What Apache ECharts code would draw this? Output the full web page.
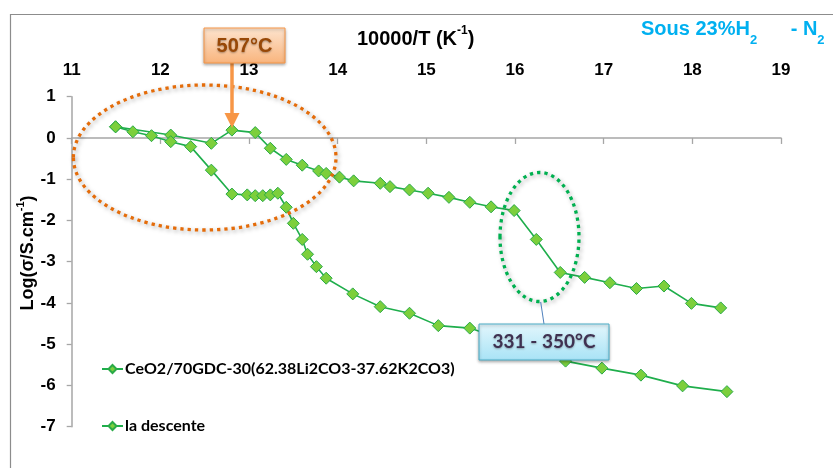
<!DOCTYPE html>
<html><head><meta charset="utf-8">
<script src="https://cdn.jsdelivr.net/npm/echarts@6/dist/echarts.min.js"></script>
<style>html,body{margin:0;padding:0;background:#fff}#c{width:833px;height:468px}</style>
</head><body><div id="c"></div>
<script>
// ---- data ----
const seriesNames = ['CeO2/70GDC-30(62.38Li2CO3-37.62K2CO3)', 'la descente'];
const xTickLabels = [11, 12, 13, 14, 15, 16, 17, 18, 19];
const yTickLabels = [-7, -6, -5, -4, -3, -2, -1, 0, 1];

const upperX = [11.495, 12.117, 12.575, 12.807, 13.07, 13.24, 13.42, 13.60, 13.785, 13.87, 14.02, 14.18, 14.48, 14.59, 14.81, 15.02, 15.255, 15.49, 15.73, 15.99, 16.24, 16.51, 16.785, 17.07, 17.37, 17.68, 17.99, 18.32];
const upperY = [0.27, 0.07, -0.13, 0.19, 0.13, -0.25, -0.52, -0.66, -0.80, -0.86, -0.95, -1.04, -1.10, -1.18, -1.26, -1.34, -1.44, -1.56, -1.67, -1.76, -2.46, -3.26, -3.38, -3.51, -3.65, -3.59, -4.01, -4.12];

const descX = [11.495, 11.69, 11.90, 12.117, 12.342, 12.575, 12.807, 12.98, 13.07, 13.155, 13.24, 13.325, 13.42, 13.50, 13.60, 13.66, 13.76, 13.87, 14.17, 14.48, 14.81, 15.135, 15.49, 16.57, 16.98, 17.42, 17.89, 18.39];
const descY = [0.27, 0.15, 0.055, -0.09, -0.21, -0.78, -1.36, -1.38, -1.40, -1.40, -1.38, -1.34, -1.68, -2.07, -2.46, -2.82, -3.12, -3.40, -3.78, -4.09, -4.25, -4.55, -4.61, -5.41, -5.58, -5.75, -6.01, -6.15];

const pairs = (xs, ys) => xs.map((x, i) => [x, ys[i]]);

const chart = echarts.init(document.getElementById('c'), null, {renderer: 'canvas'});
const lineColor = '#1FAE4C';
const markFill = '#7CCF3C';
const markBorder = '#2AAA48';
const axisGray = '#A6A6A6';
const tickFont = {fontFamily: '"Liberation Sans", Arial, sans-serif', fontWeight: 'bold', fontSize: 17, color: '#000'};

function mkSeries(name, data) {
  return {
    name: name, type: 'line', xAxisIndex: 0, yAxisIndex: 0,
    data: data, symbol: 'diamond', symbolSize: 12, showSymbol: true,
    lineStyle: {color: lineColor, width: 1.6},
    itemStyle: {color: markFill, borderColor: markBorder, borderWidth: 1},
    emphasis: {disabled: true}, animation: false, z: 3
  };
}

const dotted = (color) => ({
  fill: 'none', stroke: color, lineWidth: 3.3, lineDash: [3.3, 4],
  shadowBlur: 4, shadowColor: 'rgba(0,0,0,0.35)', shadowOffsetX: 1.5, shadowOffsetY: 2
});

const LS = '"Liberation Sans", Arial, sans-serif';

const option = {
  animation: false,
  backgroundColor: '#fff',
  grid: {left: 71.7, right: 52, top: 96.7, bottom: 41.3, containLabel: false},
  xAxis: [
    {type: 'value', position: 'top', min: 11, max: 19, interval: 1,
     axisLine: {show: false, onZero: false}, axisTick: {show: false}, splitLine: {show: false},
     axisLabel: Object.assign({margin: 18, formatter: v => xTickLabels.includes(v) ? String(v) : ''}, tickFont)},
    {type: 'value', position: 'bottom', min: 11, max: 19, interval: 1,
     axisLine: {show: true, onZero: true, lineStyle: {color: axisGray, width: 1.5}},
     axisTick: {show: true, length: 6, lineStyle: {color: axisGray, width: 1.3}},
     axisLabel: {show: false}, splitLine: {show: false}}
  ],
  yAxis: [{
    type: 'value', min: -7, max: 1, interval: 1,
    axisLine: {show: true, onZero: false, lineStyle: {color: axisGray, width: 1.5}},
    axisTick: {show: true, length: 5, lineStyle: {color: axisGray, width: 1.3}},
    splitLine: {show: false},
    axisLabel: Object.assign({margin: 16, formatter: v => yTickLabels.includes(v) ? String(v) : ''}, tickFont)
  }],
  legend: {
    orient: 'vertical', left: 101, top: 361, padding: 0, itemGap: 41, itemWidth: 21, itemHeight: 10,
    data: seriesNames,
    textStyle: {fontFamily: 'Lato, "Open Sans", sans-serif', fontWeight: 'bold', fontSize: 16, color: '#000', padding: [0,0,0,-3]}
  },
  series: [mkSeries(seriesNames[0], pairs(upperX, upperY)), mkSeries(seriesNames[1], pairs(descX, descY))],
  graphic: [
    // outer chart border
    {type: 'line', shape: {x1: 10, y1: 14.5, x2: 833, y2: 14.5}, style: {stroke: '#8C8C8C', lineWidth: 1.2}, silent: true},
    {type: 'line', shape: {x1: 10.5, y1: 14, x2: 10.5, y2: 468}, style: {stroke: '#8C8C8C', lineWidth: 1.2}, silent: true},
    // axis titles
    {type: 'text', left: 357, top: 25, z: 10, style: {
      text: '{b|10000/T (K}{s|-1}{b|)}',
      rich: {b: {fontFamily: LS, fontWeight: 'bold', fontSize: 20, fill: '#000', lineHeight: 24, verticalAlign: 'bottom'},
             s: {fontFamily: LS, fontWeight: 'bold', fontSize: 12, fill: '#000', lineHeight: 24, verticalAlign: 'top'}}
    }},
    {type: 'text', left: 641, top: 17, z: 10, style: {
      text: '{b|Sous 23%H}{s|2}{g| - N}{s|2}',
      rich: {b: {fontFamily: LS, fontWeight: 'bold', fontSize: 20, fill: '#00B0F0', lineHeight: 30, verticalAlign: 'top', padding: [2,0,0,0]},
             g: {fontFamily: LS, fontWeight: 'bold', fontSize: 20, fill: '#00B0F0', lineHeight: 30, verticalAlign: 'top', padding: [2,0,0,28]},
             s: {fontFamily: LS, fontWeight: 'bold', fontSize: 13, fill: '#00B0F0', lineHeight: 30, verticalAlign: 'bottom'}}
    }},
    {type: 'text', x: 26.5, y: 253, rotation: Math.PI / 2, z: 10, style: {
      text: '{b|Log(σ/S.cm}{s|-1}{b|)}', align: 'center', verticalAlign: 'middle',
      rich: {b: {fontFamily: LS, fontWeight: 'bold', fontSize: 18, fill: '#000', lineHeight: 22, verticalAlign: 'bottom'},
             s: {fontFamily: LS, fontWeight: 'bold', fontSize: 11, fill: '#000', lineHeight: 22, verticalAlign: 'top'}}
    }},
    // orange dotted ellipse
    {type: 'ellipse', z: 20, silent: true, shape: {cx: 204.7, cy: 157.5, rx: 131.3, ry: 72.5}, style: dotted('#E46C0A')},
    // green dotted ellipse
    {type: 'ellipse', z: 20, silent: true, shape: {cx: 539.5, cy: 237, rx: 39.5, ry: 64.5}, style: dotted('#00B050')},
    // 507 arrow
    {type: 'line', z: 21, silent: true, shape: {x1: 232, y1: 63, x2: 232, y2: 116}, style: {stroke: '#F79646', lineWidth: 3.5}},
    {type: 'polygon', z: 21, silent: true, shape: {points: [[224.5, 113], [239.5, 113], [232, 128]]}, style: {fill: '#F79646'}},
    // 507 box
    {type: 'rect', z: 22, silent: true, shape: {x: 204, y: 28, width: 81, height: 35},
     style: {fill: new echarts.graphic.LinearGradient(0, 0, 0, 1, [{offset: 0, color: '#FDE4CF'}, {offset: 1, color: '#F9B47C'}]),
             stroke: '#F79646', lineWidth: 1, shadowBlur: 3, shadowColor: 'rgba(0,0,0,0.3)', shadowOffsetY: 1.5}},
    {type: 'text', z: 23, silent: true, x: 244.5, y: 46, style: {
      text: '507°C', align: 'center', verticalAlign: 'middle',
      font: 'bold 20px "Liberation Sans", Arial', fill: '#984807',
      textShadowBlur: 2, textShadowColor: 'rgba(0,0,0,0.35)', textShadowOffsetY: 1}},
    // leader line for 331-350
    {type: 'line', z: 21, silent: true, shape: {x1: 540.7, y1: 302, x2: 544, y2: 324}, style: {stroke: '#4F81BD', lineWidth: 1}},
    {type: 'rect', z: 22, silent: true, shape: {x: 479, y: 324, width: 130, height: 36},
     style: {fill: new echarts.graphic.LinearGradient(0, 0, 0, 1, [{offset: 0, color: '#E3F6FC'}, {offset: 1, color: '#A8E3F6'}]),
             stroke: '#4BACC6', lineWidth: 1, shadowBlur: 3, shadowColor: 'rgba(0,0,0,0.3)', shadowOffsetY: 1.5}},
    {type: 'text', z: 23, silent: true, x: 544, y: 342, style: {
      text: '331 - 350°C', align: 'center', verticalAlign: 'middle',
      font: 'bold 19px Lato, "Open Sans", sans-serif', fill: '#3F3151',
      textShadowBlur: 2, textShadowColor: 'rgba(0,0,0,0.3)', textShadowOffsetY: 1}}
  ]
};
chart.setOption(option);
</script>
</body></html>
